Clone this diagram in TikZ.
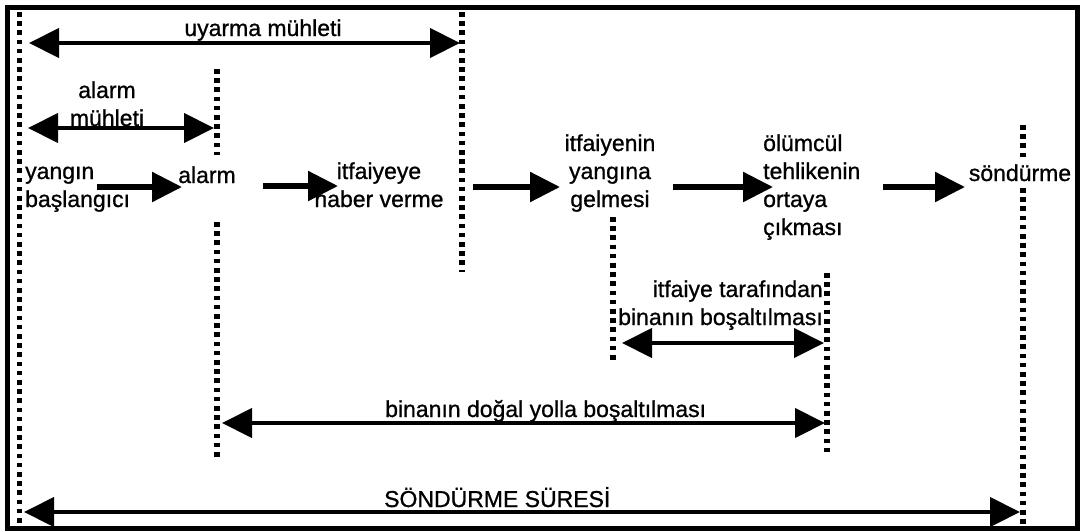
\documentclass[tikz,border=0pt]{standalone}
\usepackage{fontspec}
\setmainfont{Liberation Sans}
\newfontfamily\lblfont{Liberation Sans}[FakeBold=0.9]
\usetikzlibrary{arrows.meta}
\begin{document}
\begin{tikzpicture}[x=1pt,y=-1pt,
  lbl/.style={inner sep=0pt, font=\lblfont\fontsize{23}{28}\selectfont},
  guide/.style={line width=5.5pt, dash pattern=on 4.6pt off 4.6pt},
  span/.style={line width=4.2pt, {Triangle[length=30pt,width=29pt]}-{Triangle[length=30pt,width=29pt]}},
  flow/.style={line width=5.5pt, -{Triangle[length=30pt,width=29pt]}},
]
\useasboundingbox (0,0) rectangle (1084,531);
% frame
\draw[line width=5pt] (7.5,7.5) rectangle (1077,528);

% vertical time markers
\coordinate (g1t) at (19.5,12);   \coordinate (g1b) at (19.5,526);
\coordinate (g2t) at (217,69);    \coordinate (g2m) at (217,155);
\coordinate (g2n) at (217,222);   \coordinate (g2b) at (217,457);
\coordinate (g3t) at (462,12);    \coordinate (g3b) at (462,272);
\coordinate (g4t) at (613,217);   \coordinate (g4b) at (613,360);
\coordinate (g5t) at (827,273);   \coordinate (g5b) at (827,455);
\coordinate (g6t) at (1023,125);  \coordinate (g6m) at (1023,158);
\coordinate (g6n) at (1023,188);  \coordinate (g6b) at (1023,526);
\draw[guide] (g1t) -- (g1b);
\draw[guide] (g2t) -- (g2m);
\draw[guide] (g2n) -- (g2b);
\draw[guide] (g3t) -- (g3b);
\draw[guide] (g4t) -- (g4b);
\draw[guide] (g5t) -- (g5b);
\draw[guide] (g6t) -- (g6m);
\draw[guide] (g6n) -- (g6b);

% event labels (base anchor sits on the last line)
\node[lbl, anchor=base west, align=left] (yangin) at (25,207) {yangın\\başlangıcı};
\node[lbl, anchor=base] (alarm) at (207,183) {alarm};
\node[lbl, anchor=base, align=center] (ihbar) at (379,207) {itfaiyeye\\haber verme};
\node[lbl, anchor=base, align=center] (gelis) at (610,207) {itfaiyenin\\yangına\\gelmesi};
\node[lbl, anchor=base west, align=left] (tehlike) at (763,235) {ölümcül\\tehlikenin\\ortaya\\çıkması};
\node[lbl, anchor=base] (sondurme) at (1020,181) {söndürme};

% sequence arrows
\coordinate (a1) at (97,187);  \coordinate (a2) at (182,187);
\coordinate (b1) at (263,186); \coordinate (b2) at (338,186);
\coordinate (c1) at (473,187); \coordinate (c2) at (560,187);
\coordinate (d1) at (673,187); \coordinate (d2) at (773,187);
\coordinate (e1) at (883,187); \coordinate (e2) at (965,187);
\draw[flow] (a1) -- (a2);
\draw[flow] (b1) -- (b2);
\draw[flow] (c1) -- (c2);
\draw[flow] (d1) -- (d2);
\draw[flow] (e1) -- (e2);

% interval labels
\node[lbl, anchor=base] (uyarma) at (263,36) {uyarma mühleti};
\node[lbl, anchor=base, align=center] (alarmm) at (107,126) {alarm\\mühleti};
\node[lbl, anchor=base east, align=right] (itfbos) at (823,325) {itfaiye tarafından\\binanın boşaltılması};
\node[lbl, anchor=base west] (dogal) at (385,417) {binanın doğal yolla boşaltılması};
\node[lbl, anchor=base west] (sure) at (384,507) {SÖNDÜRME SÜRESİ};

% interval arrows
\coordinate (u1) at (29,43);   \coordinate (u2) at (460,43);
\coordinate (m1) at (28,128);  \coordinate (m2) at (214,128);
\coordinate (f1) at (622,343); \coordinate (f2) at (824,343);
\coordinate (n1) at (222,423); \coordinate (n2) at (825,423);
\coordinate (s1) at (24,512);  \coordinate (s2) at (1020,512);
\draw[span] (u1) -- (u2);
\draw[span] (m1) -- (m2);
\draw[span] (f1) -- (f2);
\draw[span] (n1) -- (n2);
\draw[span] (s1) -- (s2);
\end{tikzpicture}
\end{document}
